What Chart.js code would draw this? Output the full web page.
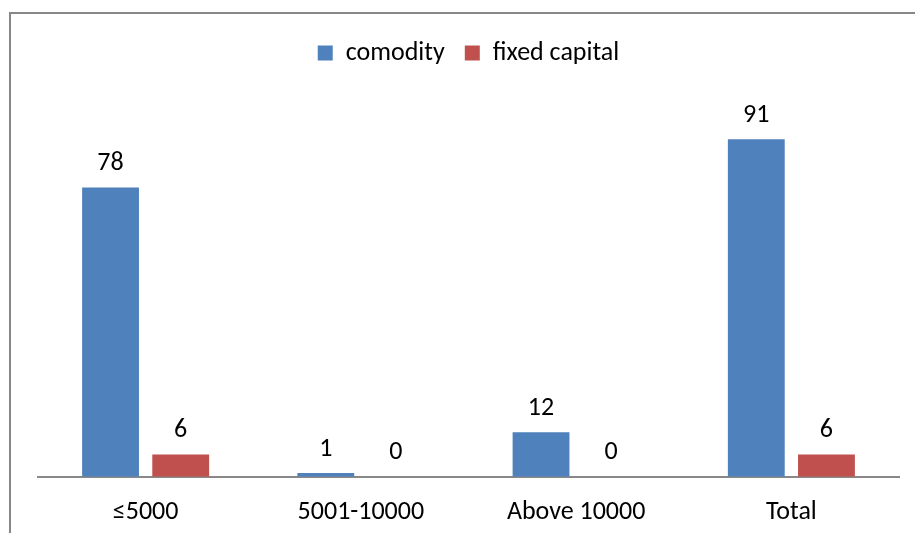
<!DOCTYPE html>
<html><head><meta charset="utf-8">
<script src="https://cdn.jsdelivr.net/npm/chart.js@4"></script>
<style>html,body{margin:0;padding:0;background:#fff}#wrap{width:915px;height:533px;position:relative}</style>
</head><body><div id="wrap"><canvas id="c" width="915" height="533"></canvas></div>
<script>
const categories = ['≤5000', '5001-10000', 'Above 10000', 'Total'];
const comodity = [78, 1, 12, 91];
const fixedCapital = [6, 0, 0, 6];
const seriesNames = ['comodity', 'fixed capital'];
const FONT = 'Carlito, Calibri, Lato, sans-serif';

const frame = {
  id: 'frame',
  beforeInit(chart) {
    const origFit = chart.legend.fit;
    chart.legend.fit = function () {
      origFit.call(this);
      this.height += 30;
    };
  },
  beforeDraw(chart) {
    const ctx = chart.ctx;
    ctx.save();
    ctx.fillStyle = '#fff';
    ctx.fillRect(0, 0, chart.width, chart.height);
    ctx.strokeStyle = '#878787';
    ctx.lineWidth = 2;
    ctx.strokeRect(10, 13, 1000, 1000);
    ctx.restore();
  }
};
const valueLabels = {
  id: 'valueLabels',
  afterDatasetsDraw(chart) {
    const ctx = chart.ctx;
    ctx.save();
    ctx.font = '26px ' + FONT;
    ctx.fillStyle = '#000';
    ctx.textAlign = 'center';
    ctx.textBaseline = 'bottom';
    chart.data.datasets.forEach((ds, i) => {
      chart.getDatasetMeta(i).data.forEach((bar, j) => {
        ctx.fillText(String(ds.data[j]), bar.x, bar.y - 11);
      });
    });
    ctx.restore();
  }
};

new Chart(document.getElementById('c'), {
  type: 'bar',
  data: {
    labels: categories,
    datasets: [
      { label: seriesNames[0], data: comodity, backgroundColor: '#4f81bd' },
      { label: seriesNames[1], data: fixedCapital, backgroundColor: '#c0504d' }
    ]
  },
  options: {
    responsive: false,
    animation: false,
    layout: { padding: { left: 38, right: 16, top: 20, bottom: -7 } },
    datasets: { bar: { categoryPercentage: 0.652, barPercentage: 0.81 } },
    plugins: {
      legend: {
        position: 'top',
        labels: { font: { size: 26, family: FONT }, color: '#000', boxWidth: 15, boxHeight: 15, padding: 20 }
      },
      tooltip: { enabled: false }
    },
    scales: {
      x: {
        grid: { display: false },
        border: { display: true, color: '#888', width: 2 },
        ticks: { font: { size: 26, family: FONT }, color: '#000', padding: 12 }
      },
      y: { display: false, min: 0, max: 100 }
    }
  },
  plugins: [frame, valueLabels]
});
</script></body></html>
